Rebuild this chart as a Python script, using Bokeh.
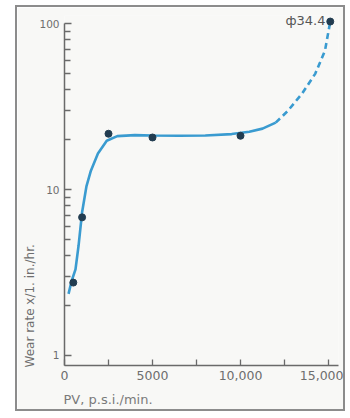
import math
from bokeh.plotting import figure
from bokeh.models import FixedTicker, Range1d, Label, Title
from bokeh.embed import file_html
from bokeh.resources import INLINE

# ---- data ----
pt_x = [500, 1000, 2500, 5000, 10000, 15100]
pt_y = [2.75, 6.8, 21.7, 20.6, 21.1, 103]

curve_x = [230, 400, 625, 800, 1000, 1250, 1500, 1900, 2400, 3000, 4000, 5000,
           6500, 8000, 9500, 10500, 11250, 12000]
curve_y = [2.35, 2.8, 3.3, 4.6, 7.3, 10.5, 13.0, 16.5, 19.7, 21.0, 21.3, 21.2,
           21.1, 21.2, 21.6, 22.3, 23.3, 25.3]

dash_x = [12000, 12700, 13500, 14250, 14800, 15100]
dash_y = [25.3, 29.9, 37.9, 50.0, 68.8, 103]

x_ticks = [0, 5000, 10000, 15000]
x_tick_labels = ["0", "5000", "10,000", "15,000"]
x_minor = [2500, 7500, 12500]
y_ticks = [1, 10, 100]
y_tick_labels = ["1", "10", "100"]
y_minor = [2, 3, 4, 5, 6, 7, 8, 9, 20, 30, 40, 50, 60, 70, 80, 90]

annot_text = "\u044434.4"
y_title = "Wear rate x/1. in./hr."
x_title = "PV, p.s.i./min."

FONT = "DejaVu Sans"
TXT = "#6e6e6e"
AX = "#6a6a6a"
BG = "#f8f8f6"

p = figure(width=330, height=406, y_axis_type="log",
           x_range=Range1d(0, 15568), y_range=Range1d(0.87, 112),
           output_backend="svg", toolbar_location=None,
           min_border_left=47, min_border_right=9, min_border_top=8,
           min_border_bottom=48)
p.styles = {"border": "2px solid #8c8c8c", "margin-left": "15px",
            "margin-top": "5px"}
p.background_fill_color = BG
p.border_fill_color = BG
p.outline_line_color = None
p.xgrid.visible = False
p.ygrid.visible = False

p.line(curve_x, curve_y, line_color="#3a9bd0", line_width=2.6)
p.line(dash_x, dash_y, line_color="#3a9bd0", line_width=2.6, line_dash="6 4")
p.scatter(pt_x, pt_y, size=7, fill_color="#223c50", line_color="#223c50")

# axes
xa = p.xaxis[0]
xa.ticker = FixedTicker(ticks=x_ticks, minor_ticks=x_minor)
xa.major_label_overrides = dict(zip(x_ticks, x_tick_labels))
xa.major_tick_in = 6
xa.major_tick_out = 0
xa.minor_tick_in = 6
xa.minor_tick_out = 0
xa.major_label_standoff = 5
xa.major_label_text_font = FONT
xa.major_label_text_font_size = "12.5px"
xa.major_label_text_color = TXT
for a in (xa, p.yaxis[0]):
    a.axis_line_color = AX
    a.axis_line_width = 1.5
    a.major_tick_line_color = AX
    a.minor_tick_line_color = AX
    a.major_tick_line_width = 1.3
    a.minor_tick_line_width = 1.3

ya = p.yaxis[0]
ya.ticker = FixedTicker(ticks=y_ticks, minor_ticks=y_minor)
ya.major_label_overrides = dict(zip(y_ticks, y_tick_labels))
ya.bounds = (0.87, 100)
ya.major_tick_in = 7
ya.major_tick_out = 0
ya.minor_tick_in = 6
ya.minor_tick_out = 0
ya.major_label_standoff = 5
ya.major_label_text_font = FONT
ya.major_label_text_font_size = "10.5px"
ya.major_label_text_color = TXT

p.add_layout(Label(x=14830, y=104, text=annot_text, text_align="right",
                   text_baseline="middle", text_font=FONT,
                   text_font_size="13px", text_color="#555555"))

p.add_layout(Title(text=y_title, align="left", offset=-2, standoff=0,
                   text_font=FONT, text_font_size="12px",
                   text_font_style="normal", text_color=TXT), "left")
p.add_layout(Title(text=x_title, align="left", offset=-1, standoff=14,
                   text_font=FONT, text_font_size="13px",
                   text_font_style="normal", text_color="#7a7a7a"), "below")

open("out.html", "w").write(file_html(p, INLINE))
